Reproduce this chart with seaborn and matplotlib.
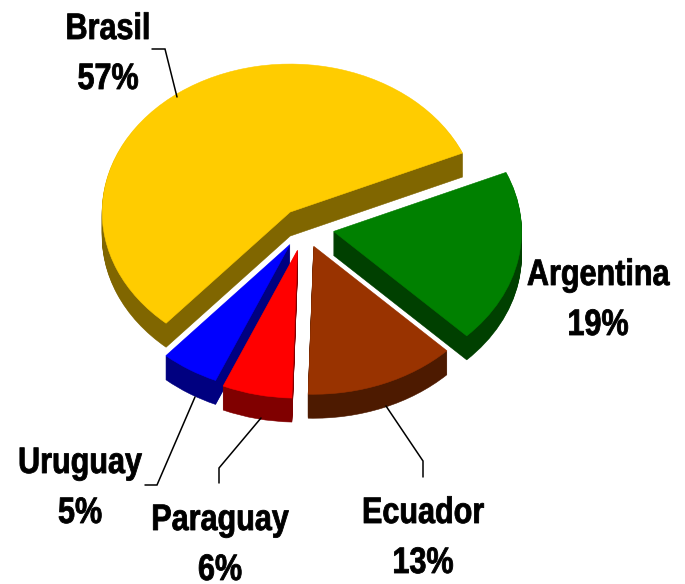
import matplotlib
matplotlib.use("Agg")
import matplotlib.pyplot as plt
from matplotlib.patheffects import AbstractPathEffect
from matplotlib.transforms import Affine2D
import seaborn as sns

sns.set_theme(style="white")
plt.rcParams['font.family'] = ['Liberation Sans', 'DejaVu Sans']

# datos
paises = ["Brasil", "Uruguay", "Paraguay", "Ecuador", "Argentina"]
valores = [57, 5, 6, 13, 19]
colores = ["#FFCC00", "#0000FF", "#FF0000", "#993300", "#008000"]
sombras = ["#806600", "#000080", "#800000", "#4D1A00", "#004000"]

# posicion de las etiquetas en pixeles (x, linea base nombre, linea base porcentaje)
etiquetas_xy = [(108, 39, 89), (80, 473, 523), (220, 530, 580), (423, 523, 573), (598, 285, 335)]

# lineas guia en pixeles
guias = [
    [(152, 49), (165, 49), (177, 97)],
    [(145, 485), (157, 485), (195, 397)],
    [(219, 483), (219, 468), (261, 418)],
    [(423, 477), (423, 461), (386, 406)],
]

W, H = 685, 584
RX, RY = 188, 148       # radios de la elipse
CX, CY = 304, 227       # centro de la torta
PROF = 24               # altura del cilindro
ANGULO = 23.5

fig = plt.figure(figsize=(W / 100, H / 100), dpi=100)
ax = fig.add_axes([0, 0, 1, 1])

explode = [0.125, 0.14, 0.16, 0.14, 0.16]


# la fuente original es angosta, se comprime el texto en horizontal
class Angosto(AbstractPathEffect):
    def __init__(self, x0, factor=0.83):
        super().__init__()
        self.x0 = x0
        self.factor = factor

    def draw_path(self, renderer, gc, tpath, affine, rgbFace=None):
        t = affine + Affine2D().translate(-self.x0, 0).scale(self.factor, 1).translate(self.x0, 0)
        gc0 = renderer.new_gc()
        gc0.copy_properties(gc)
        gc0.set_linewidth(0.6)
        gc0.set_foreground("black")
        renderer.draw_path(gc0, tpath, t, rgbFace)
        gc0.restore()


def torta(cols, centro):
    wedges, _ = ax.pie(valores, explode=explode, colors=cols, startangle=ANGULO, center=centro)
    for w, c in zip(wedges, cols):
        w.set_edgecolor(c)
        w.set_linewidth(0.4)


# el costado: muchas tortas apiladas de abajo hacia arriba
for d in range(PROF, 0, -1):
    torta(sombras, (0, -d / RY))
torta(colores, (0, 0))

ax.set_aspect("auto")
ax.set_xlim(-CX / RX, (W - CX) / RX)
ax.set_ylim((CY - H) / RY, CY / RY)

# capa en pixeles para textos y guias
capa = fig.add_axes([0, 0, 1, 1])
capa.set_xlim(0, W)
capa.set_ylim(H, 0)
capa.axis("off")

for g in guias:
    capa.plot([p[0] for p in g], [p[1] for p in g], color="black", lw=1.1, solid_joinstyle="miter")

for pais, val, (x, y1, y2) in zip(paises, valores, etiquetas_xy):
    for y, txt in [(y1, pais), (y2, f"{val}%")]:
        capa.text(x, y, txt, ha="center", va="baseline", fontsize=26.5, fontweight="bold",
                  color="black", path_effects=[Angosto(x)])

fig.savefig("out.png", dpi=100, facecolor="white")
